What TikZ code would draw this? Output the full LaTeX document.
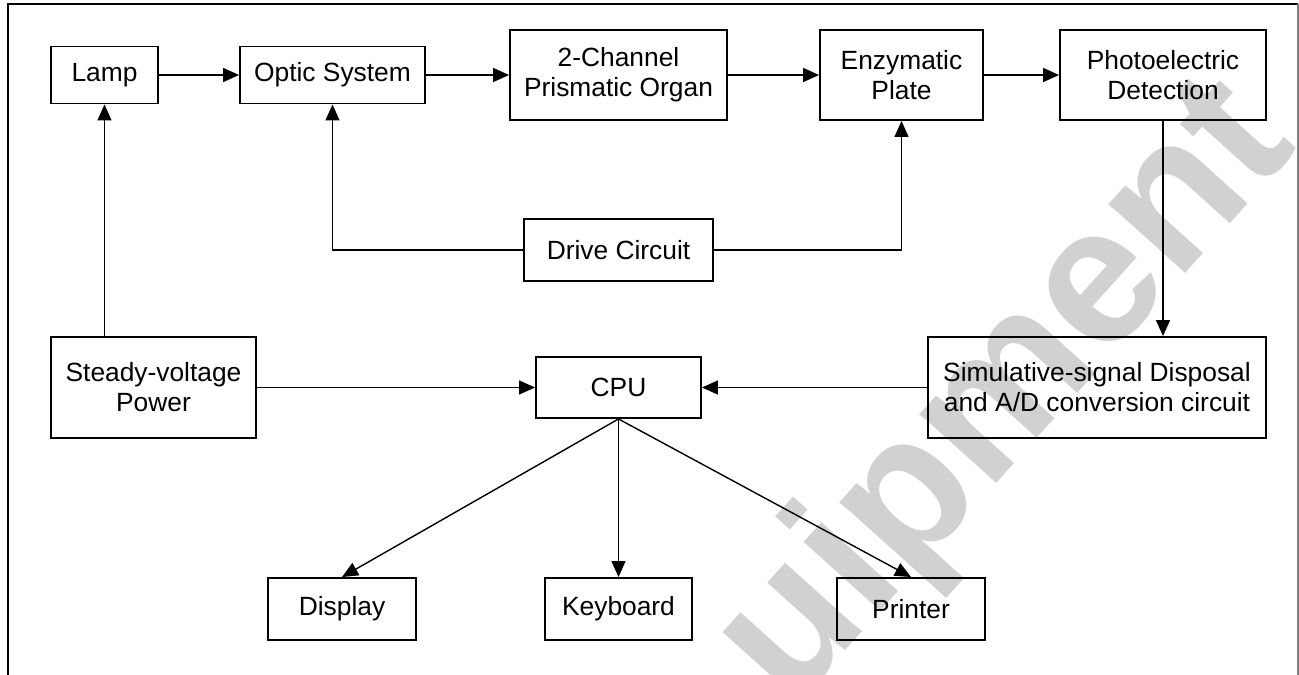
\documentclass[tikz,border=0pt]{standalone}
\usepackage{fontspec}
\setmainfont{Liberation Sans}
\usetikzlibrary{arrows.meta,calc,positioning}

\begin{document}
\begin{tikzpicture}[x=0.02cm,y=-0.02cm,>={Triangle[length=0.32cm,width=0.28cm]},
                    thick,block node/.style={rectangle,draw,line width=1.1pt,align=center,font=\fontsize{15}{17}\selectfont,inner sep=0pt}]
\useasboundingbox (0,0) rectangle (1299,675);

% watermark
\begin{scope}
\clip (0,0) rectangle (1299,675);
\node[text=black!18,font=\bfseries\fontsize{111}{111}\selectfont,rotate=48] (Mark) at (1008,395) {uipment};
\end{scope}

% frame
\draw[line width=1.1pt] (8,675) -- (8,4) -- (1298,4);
\draw[gray,line width=0.6pt] (1298,4) -- (1298,675);

\node[block node,minimum width=2.14cm,minimum height=1.14cm] (Lamp) at (104.5,75) {Lamp};
\node[block node,minimum width=3.7cm,minimum height=1.14cm] (Optic) at (332.5,75) {Optic System};
\node[block node,minimum width=4.34cm,minimum height=1.8cm] (Prism) at (618.5,75) {2-Channel\\Prismatic Organ};
\node[block node,minimum width=3.26cm,minimum height=1.8cm] (Enzyme) at (901.5,75) {Enzymatic\\Plate};
\node[block node,minimum width=4.12cm,minimum height=1.8cm] (Photo) at (1163,75) {Photoelectric\\Detection};
\node[block node,minimum width=3.78cm,minimum height=1.24cm] (Drive) at (618.5,250) {Drive Circuit};
\node[block node,minimum width=4.1cm,minimum height=2.02cm] (Power) at (153.5,387.5) {Steady-voltage\\Power};
\node[block node,minimum width=3.3cm,minimum height=1.22cm] (CPU) at (618.5,387.5) {CPU};
\node[block node,minimum width=6.76cm,minimum height=2.02cm] (Signal) at (1097,387.5) {Simulative-signal Disposal\\and A/D conversion circuit};
\node[block node,minimum width=2.96cm,minimum height=1.24cm] (Display) at (342,609) {Display};
\node[block node,minimum width=2.94cm,minimum height=1.24cm] (Keyboard) at (618.5,609) {Keyboard};
\node[block node,minimum width=2.96cm,minimum height=1.24cm] (Printer) at (911,609) {Printer};

\draw[->] (Lamp) -- (Optic);
\draw[->] (Optic) -- (Prism);
\draw[->] (Prism) -- (Enzyme);
\draw[->] (Enzyme) -- (Photo);
\draw[->] (Lamp.south |- Power.north) -- (Lamp.south);
\draw[->] (Drive.west) -| (Optic.south);
\draw[->] (Drive.east) -| (Enzyme.south);
\draw[->] (Photo.south) -- (Photo.south |- Signal.north);
\draw[->] (Power) -- (CPU);
\draw[->] (Signal) -- (CPU);
\draw[->] (CPU.south) -- (Display.north);
\draw[->] (CPU.south) -- (Keyboard.north);
\draw[->] (CPU.south) -- (Printer.north);
\end{tikzpicture}
\end{document}
